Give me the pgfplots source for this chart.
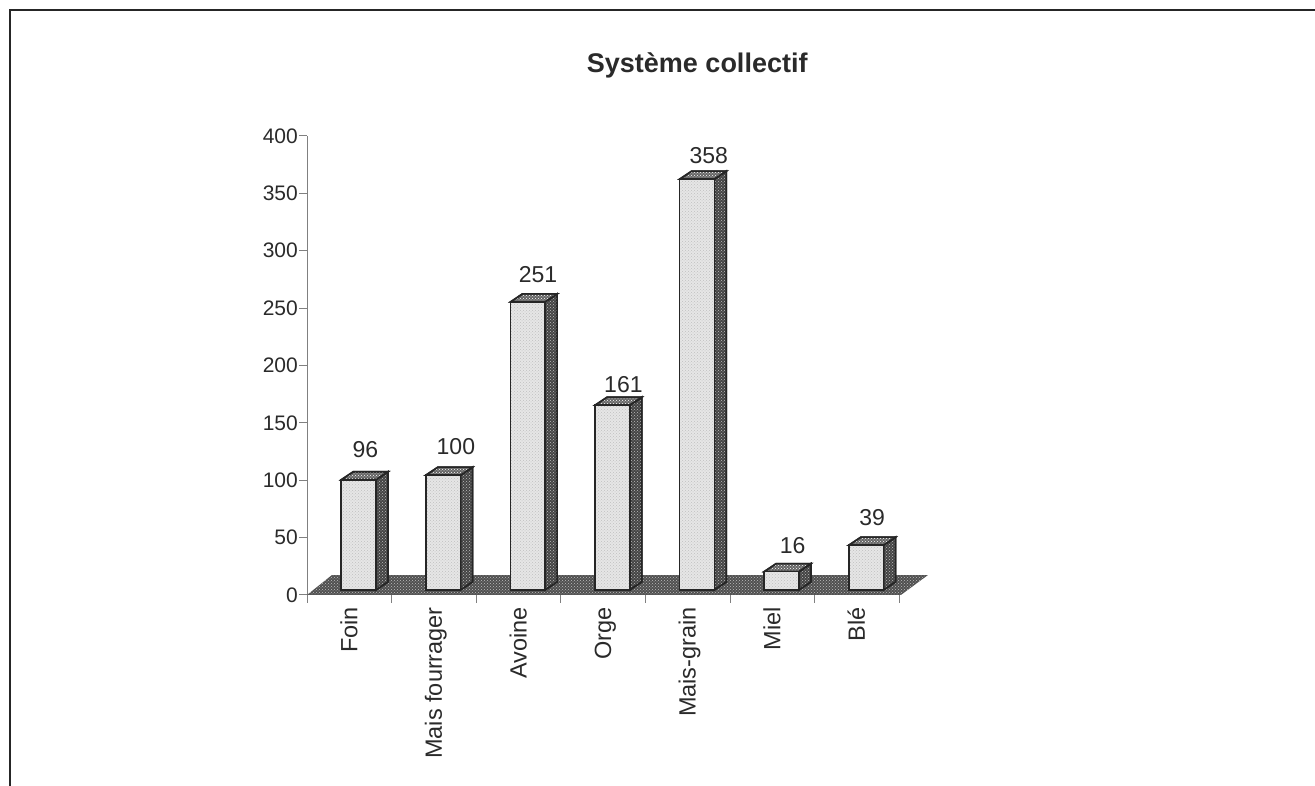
\documentclass[border=0pt]{standalone}
\usepackage{fontspec}
\setmainfont{Liberation Sans}
\usepackage{pgfplots}
\pgfplotsset{compat=1.18}
\usetikzlibrary{patterns}
\definecolor{frontc}{HTML}{E6E6E6}
\definecolor{sidec}{HTML}{444444}
\definecolor{topc}{HTML}{666666}
\definecolor{floorc}{HTML}{505050}
\definecolor{txt}{HTML}{2A2A2A}
% one 3D column: #1 category index, #2 value
\newcommand{\column}[2]{%
  \pgfmathsetmacro{\xa}{#1+0.405}\pgfmathsetmacro{\xb}{#1+0.815}\pgfmathsetmacro{\xc}{#1+0.957}%
  \pgfmathsetmacro{\xd}{#1+0.547}\pgfmathsetmacro{\yt}{#2+4.4}\pgfmathsetmacro{\ytt}{#2+11.4}%
  \addplot[draw=black!85, line width=1.6pt, fill=sidec, postaction={pattern=crosshatch dots, pattern color=lightgray}]
    coordinates {(\xb,4.4) (\xc,11.4) (\xc,\ytt) (\xb,\yt)} -- cycle;
  \addplot[draw=black!85, line width=1.6pt, fill=topc, postaction={pattern=crosshatch dots, pattern color=white}]
    coordinates {(\xa,\yt) (\xd,\ytt) (\xc,\ytt) (\xb,\yt)} -- cycle;
  \addplot[draw=black!85, line width=1.6pt, fill=frontc, postaction={pattern=crosshatch dots, pattern color=black!25}]
    coordinates {(\xa,4.4) (\xb,4.4) (\xb,\yt) (\xa,\yt)} -- cycle;
}
\begin{document}
\begin{tikzpicture}[x=1pt,y=1pt]
\path[use as bounding box] (0,0) rectangle (1315,786);
\draw[line width=2pt, black!85] (9.5,0) -- (9.5,775.5) -- (1315,775.5);
\begin{axis}[
    at={(307pt,191pt)},
    x=84.6pt, y=1.1475pt,
    xmin=0, xmax=7, ymin=0, ymax=400,
    axis x line=bottom, axis y line=left,
    axis line style={-, draw=gray, line width=1pt},
    clip=false,
    font=\fontsize{21}{24}\selectfont\color{txt},
    /pgf/number format/assume math mode=true,
    title={\fontsize{27}{30}\selectfont\bfseries Système collectif},
    title style={at={(0.659,1.141)}, anchor=center, inner sep=0pt},
    ytick={0,50,...,400},
    ytick pos=left,
    xtick={0.5,1.5,2.5,3.5,4.5,5.5,6.5},
    xticklabels={Foin,Mais fourrager,Avoine,Orge,Mais-grain,Miel,Blé},
    minor xtick={0,...,7},
    xtick pos=bottom,
    tick align=outside,
    major tick length=8pt, minor tick length=8pt,
    tick style={draw=gray, line width=1pt},
    major x tick style={draw=none},
    xticklabel style={font=\fontsize{23.5}{26}\selectfont\color{txt}, rotate=90, anchor=east,
      text height=22pt, text depth=4pt, yshift=1pt, inner sep=4pt},
    yticklabel style={inner sep=0pt, xshift=-1pt},
]
% floor
\addplot[draw=none, fill=floorc, postaction={pattern=crosshatch dots, pattern color=lightgray}]
  coordinates {(0,0) (0.295,17.4) (7.34,17.4) (7.02,0)} -- cycle;
\column{0}{96}
\column{1}{100}
\column{2}{251}
\column{3}{161}
\column{4}{358}
\column{5}{16}
\column{6}{39}
% value labels
\addplot[draw=none, mark=none, nodes near coords, point meta=explicit symbolic,
    every node near coord/.style={font=\fontsize{23}{26}\selectfont, anchor=center, inner sep=0pt, color=txt}]
  table[meta=v] {
x y v
0.69 126.8 96
1.76 129.4 100
2.73 279.3 251
3.74 183.4 161
4.75 383 358
5.74 43 16
6.68 67.5 39
};
\end{axis}
\end{tikzpicture}
\end{document}
